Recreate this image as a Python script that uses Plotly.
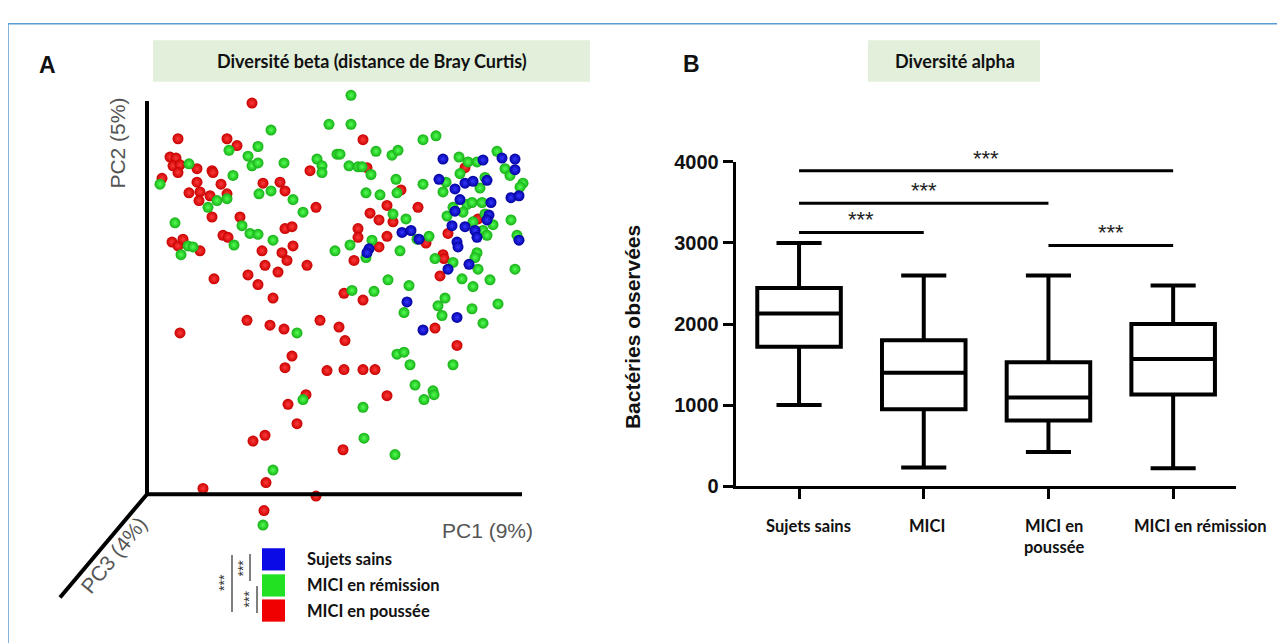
import plotly.graph_objects as go

W, H = 1285, 643
OFF = 8  # the page shows the figure 8 px right / down of the window corner

# ---------------- Panel A : PCoA scores (Bray-Curtis) ----------------
pc1_sains = [0.103, 0.143, 0.162, 0.175, 0.175, 0.099, 0.115, 0.125, 0.133, 0.147,
             0.120, 0.115, 0.151, 0.171, 0.179, 0.149, 0.147, 0.112, 0.125, 0.135,
             0.137, 0.117, 0.118, 0.062, 0.071, 0.079, 0.029, 0.027, 0.129, 0.108,
             0.179, 0.067, 0.117, 0.083]
pc2_sains = [0.147, 0.146, 0.148, 0.147, 0.136, 0.126, 0.116, 0.122, 0.124, 0.125,
             0.105, 0.093, 0.102, 0.107, 0.109, 0.089, 0.084, 0.078, 0.077, 0.073,
             0.066, 0.061, 0.056, 0.071, 0.073, 0.064, 0.054, 0.050, 0.038, 0.033,
             0.063, -0.001, -0.017, -0.030]

pc1_remission = [0.011, -0.011, 0.011, -0.069, -0.082, -0.111, -0.092, -0.088, -0.082, -0.151,
                 -0.056, -0.023, -0.018, -0.018, -0.003, 0.000, 0.009, 0.018, 0.022, 0.036,
                 0.052, 0.058, 0.083, 0.096, -0.107, -0.180, -0.081, -0.069, -0.123, -0.113,
                 -0.132, -0.047, -0.037, 0.031, 0.056, 0.026, 0.040, 0.057, 0.083, 0.053,
                 0.066, -0.165, -0.098, -0.090, -0.082, -0.067, -0.106, -0.152, -0.147, -0.159,
                 0.010, 0.032, 0.026, -0.005, 0.060, 0.077, 0.089, 0.095, 0.048, 0.069,
                 0.034, 0.012, 0.064, -0.043, 0.057, 0.064, 0.102, 0.098, 0.105, 0.113,
                 0.122, 0.133, 0.150, 0.143, 0.132, 0.158, 0.175, 0.138, 0.137, 0.135,
                 0.153, 0.143, 0.147, 0.171, 0.177, 0.119, 0.128, 0.137, 0.157, 0.165,
                 0.170, 0.183, 0.180, 0.106, 0.120, 0.103, 0.140, 0.145, 0.113, 0.127,
                 0.132, 0.142, 0.123, 0.107, 0.133, 0.145, 0.070, 0.075, 0.084, 0.093,
                 0.094, 0.113, 0.023, 0.024, 0.055, -0.067, -0.037, -0.077]
pc2_remission = [0.213, 0.183, 0.183, 0.177, 0.160, 0.156, 0.150, 0.140, 0.143, 0.142,
                 0.143, 0.147, 0.140, 0.133, 0.152, 0.152, 0.140, 0.139, 0.139, 0.155,
                 0.151, 0.156, 0.167, 0.171, 0.130, 0.121, 0.111, 0.114, 0.104, 0.106,
                 0.097, 0.105, 0.092, 0.131, 0.126, 0.112, 0.110, 0.112, 0.121, 0.090,
                 0.085, 0.081, 0.078, 0.070, 0.069, 0.063, 0.058, 0.057, 0.056, 0.048,
                 0.058, 0.063, 0.045, 0.052, 0.052, 0.064, 0.067, 0.044, 0.022, 0.016,
                 0.010, 0.011, -0.012, -0.033, -0.055, -0.053, -0.015, -0.005, 0.003, 0.040,
                 0.023, 0.015, 0.022, -0.023, -0.008, -0.003, 0.033, 0.033, 0.050, 0.045,
                 0.079, 0.073, 0.068, 0.084, 0.068, 0.149, 0.144, 0.144, 0.155, 0.137,
                 0.130, 0.122, 0.118, 0.123, 0.132, 0.113, 0.117, 0.128, 0.097, 0.100,
                 0.102, 0.102, 0.092, 0.088, 0.082, 0.090, -0.066, -0.087, -0.102, -0.093,
                 -0.097, -0.066, -0.110, -0.142, -0.159, -0.175, -0.102, -0.232]

pc1_poussee = [-0.088, -0.162, -0.113, -0.103, 0.023, -0.170, -0.164, -0.167, -0.160, -0.162,
               -0.178, -0.143, -0.128, -0.127, -0.143, -0.119, -0.151, -0.140, -0.141, -0.130,
               -0.113, -0.077, -0.060, -0.055, -0.030, -0.128, -0.100, -0.117, -0.112, -0.055,
               -0.048, -0.024, -0.168, -0.162, -0.157, -0.140, -0.078, -0.058, -0.047, -0.053,
               -0.075, -0.062, -0.033, -0.126, -0.092, -0.082, -0.067, -0.160, -0.093, -0.070,
               -0.056, -0.020, -0.001, 0.005, -0.048, 0.004, 0.023, 0.018, 0.018, 0.030,
               0.039, 0.047, 0.053, 0.047, 0.039, 0.014, 0.027, 0.061, 0.078, 0.086,
               0.103, 0.104, 0.100, 0.095, 0.117, 0.125, 0.108, 0.138, -0.055, -0.013,
               0.004, 0.023, 0.035, -0.034, -0.052, 0.047, -0.043, -0.087, -0.075, 0.003,
               -0.074, -0.137, -0.024, -0.076]
pc2_poussee = [0.205, 0.168, 0.168, 0.161, 0.167, 0.149, 0.148, 0.140, 0.141, 0.133,
               0.127, 0.137, 0.135, 0.133, 0.123, 0.121, 0.112, 0.113, 0.104, 0.109,
               0.111, 0.122, 0.123, 0.114, 0.135, 0.087, 0.087, 0.068, 0.066, 0.075,
               0.077, 0.097, 0.061, 0.057, 0.064, 0.052, 0.052, 0.050, 0.057, 0.042,
               0.037, 0.030, 0.037, 0.023, 0.027, 0.017, 0.003, -0.033, -0.020, -0.025,
               -0.029, -0.020, -0.027, -0.041, -0.057, 0.008, 0.001, 0.075, 0.066, 0.091,
               0.084, 0.099, 0.082, 0.067, 0.056, 0.042, 0.138, 0.115, 0.097, 0.060,
               0.048, 0.044, 0.026, -0.028, -0.046, 0.138, 0.070, 0.085, -0.069, -0.072,
               -0.071, -0.071, -0.071, -0.097, -0.107, -0.098, -0.127, -0.145, -0.139, -0.154,
               -0.188, -0.194, -0.202, -0.217]

groups = ["Sujets sains", "MICI en rémission", "MICI en poussée"]

# ---------------- Panel B : observed bacteria (box plot summary) ----------------
categories = ["Sujets sains", "MICI", "MICI en<br>poussée", "MICI en rémission"]
lowerfence = [1000, 230, 420, 220]
q1 = [1720, 950, 810, 1130]
median = [2130, 1400, 1095, 1570]
q3 = [2445, 1800, 1530, 2000]
upperfence = [3000, 2600, 2600, 2475]
y_ticks = [0, 1000, 2000, 3000, 4000]

sig_from = [0, 0, 0, 2]
sig_to = [1, 2, 3, 3]
sig_height = [3130, 3490, 3890, 2970]
sig_text = "***"

# ---------------- styles ----------------
RED, RED_HI = "#C80000", "#FF3A3A"
GREEN, GREEN_HI = "#16B016", "#52FF52"
BLUE, BLUE_HI = "#0000A0", "#3535FF"
CAL = "Lato"
ARI = "Liberation Sans"


def PX(x):
    return (x - OFF) / W


def PY(y):
    return 1 - (y - OFF) / H


def P(x, y):
    return PX(x), PY(y)


def ann(px, py, text, **kw):
    ax, ay = P(px, py)
    d = dict(x=ax, y=ay, xref="paper", yref="paper", text=text, showarrow=False,
             xanchor="center", yanchor="middle")
    d.update(kw)
    return d


fig = go.Figure()

# scatter (panel A) -- red first, then green, then blue
for xs, ys, c, hi, name in [(pc1_poussee, pc2_poussee, RED, RED_HI, groups[2]),
                            (pc1_remission, pc2_remission, GREEN, GREEN_HI, groups[1]),
                            (pc1_sains, pc2_sains, BLUE, BLUE_HI, groups[0])]:
    fig.add_trace(go.Scatter(
        x=xs, y=ys, mode="markers", name=name, cliponaxis=False,
        marker=dict(size=11, color=c, gradient=dict(type="radial", color=hi),
                    line=dict(width=0)),
        xaxis="x", yaxis="y", hoverinfo="skip"))

# box plot (panel B)
fig.add_trace(go.Box(
    x=list(range(len(categories))), q1=q1, median=median, q3=q3,
    lowerfence=lowerfence, upperfence=upperfence,
    width=0.67, whiskerwidth=0.54, boxpoints=False,
    line=dict(color="black", width=4), fillcolor="white",
    xaxis="x2", yaxis="y2", hoverinfo="skip"))

# significance bars
for a, b, h in zip(sig_from, sig_to, sig_height):
    fig.add_trace(go.Scatter(x=[a, b], y=[h, h], mode="lines",
                             line=dict(color="black", width=3),
                             xaxis="x2", yaxis="y2", hoverinfo="skip"))

annotations = []
for a, b, h in zip(sig_from, sig_to, sig_height):
    annotations.append(dict(x=(a + b) / 2, y=h, xref="x2", yref="y2", text=sig_text,
                            showarrow=False, xanchor="center", yanchor="bottom", yshift=-2,
                            font=dict(family=ARI, size=22, color="#222")))

label_shift = [9, 3, 6, 27]
for i, (lab, s) in enumerate(zip(categories, label_shift)):
    annotations.append(dict(x=i, y=0, xref="x2", yref="y2", text=lab, showarrow=False,
                            xanchor="center", yanchor="top", yshift=-28, xshift=s,
                            align="center",
                            font=dict(family=CAL, size=16.5, color="#111", weight="bold")))

# y-axis title B
annotations.append(ann(632, 327, "Bactéries observées", textangle=-90,
                       font=dict(family=ARI, size=21, color="#111", weight="bold")))

# panel letters and titles
for txt, (px, py) in [("A", (47, 56)), ("B", (691, 55))]:
    annotations.append(ann(px, py, txt,
                           font=dict(family=ARI, size=23, color="#111", weight="bold")))
for txt, (px, py) in [("Diversité beta (distance de Bray Curtis)", (372, 52)),
                      ("Diversité alpha", (955, 52))]:
    annotations.append(ann(px, py, txt,
                           font=dict(family=CAL, size=18, color="#111", weight="bold")))

# PC axis labels
for txt, (px, py), ang in [("PC2 (5%)", (118, 137), -90), ("PC1 (9%)", (487, 538), 0),
                           ("PC3 (4%)", (113, 563), -51)]:
    annotations.append(ann(px, py, txt, textangle=ang,
                           font=dict(family=ARI, size=21, color="#555")))

# legend of panel A
leg_colors = ["#0A0AE6", "#22E022", "#F00000"]
leg_y = [567, 594, 621]
for txt, py in zip(groups, leg_y):
    annotations.append(ann(305, py, txt, xanchor="left",
                           font=dict(family=CAL, size=16.5, color="#111", weight="bold")))
for (px, py) in [(224, 592), (243, 576), (249, 609)]:
    annotations.append(ann(px, py, "***", textangle=-90,
                           font=dict(family=ARI, size=14, color="#333")))

shapes = []
# outer frame
shapes.append(dict(type="rect", xref="paper", yref="paper",
                   x0=PX(8), y0=PY(670), x1=PX(1284), y1=PY(13),
                   line=dict(color="#5B9BD5", width=1.5)))
# title backgrounds
for (a, b, c, d) in [(153, 30, 590, 73), (868, 30, 1040, 73)]:
    shapes.append(dict(type="rect", xref="paper", yref="paper",
                       x0=PX(a), y0=PY(d), x1=PX(c), y1=PY(b),
                       fillcolor="#E2EFDA", line=dict(width=0), layer="below"))
# PCoA axes
for (a, b, c, d) in [(147, 93, 147, 500), (145, 500, 522, 500), (147, 500, 60, 607)]:
    shapes.append(dict(type="line", xref="paper", yref="paper",
                       x0=PX(a), y0=PY(b), x1=PX(c), y1=PY(d),
                       line=dict(color="black", width=4)))
# legend squares
for col, (a, b) in zip(leg_colors, [(262, 556), (262, 583), (262, 609)]):
    shapes.append(dict(type="rect", xref="paper", yref="paper",
                       x0=PX(a), y0=PY(b + 23), x1=PX(a + 23), y1=PY(b),
                       fillcolor=col, line=dict(width=0)))
# legend significance brackets
for (a, b, d) in [(232, 563, 622), (250, 562, 590), (257, 595, 623)]:
    shapes.append(dict(type="line", xref="paper", yref="paper",
                       x0=PX(a), y0=PY(b), x1=PX(a), y1=PY(d),
                       line=dict(color="#555", width=1.5)))

fig.update_layout(
    width=W, height=H, autosize=False,
    margin=dict(l=0, r=0, t=0, b=0),
    paper_bgcolor="white", plot_bgcolor="white",
    showlegend=False,
    xaxis=dict(domain=[PX(147), PX(540)], range=[-0.193, 0.200], visible=False),
    yaxis=dict(domain=[PY(545), PY(80)], range=[-0.245, 0.220], visible=False),
    xaxis2=dict(domain=[PX(735.7), PX(1236)], range=[-0.508, 3.504], anchor="y2",
                showline=True, linecolor="black", linewidth=3, ticks="outside",
                tickvals=list(range(len(categories))), ticklen=10, tickwidth=3,
                tickcolor="black", showticklabels=False, showgrid=False, zeroline=False),
    yaxis2=dict(domain=[PY(491.7), PY(156)], range=[0, 4000], anchor="x2",
                showline=True, linecolor="black", linewidth=3, ticks="outside",
                tickvals=y_ticks, ticklen=10, tickwidth=3, tickcolor="black",
                tickfont=dict(family=ARI, size=20, color="#111", weight="bold"),
                showgrid=False, zeroline=False),
    annotations=annotations, shapes=shapes,
)

fig.write_html("out.html")
